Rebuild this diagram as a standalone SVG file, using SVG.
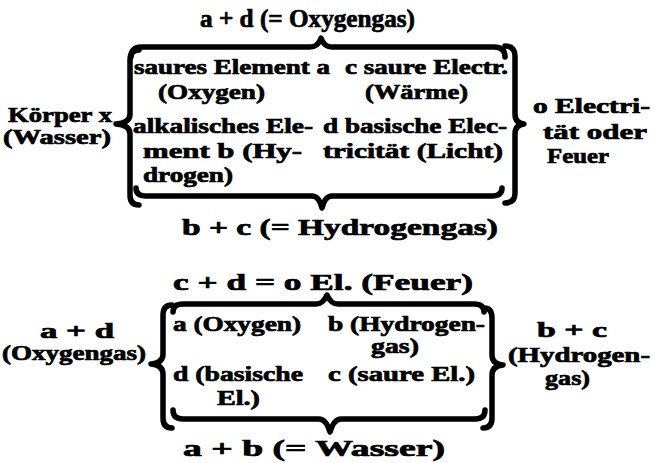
<svg xmlns="http://www.w3.org/2000/svg" width="661" height="463" viewBox="0 0 661 463">
<style>
text{font-family:"Liberation Serif","Times New Roman",serif;font-weight:bold;font-size:21px;fill:#000;stroke:#000;stroke-width:0.7}
.big{font-size:25px}
.sum{font-size:22.5px}
.brace{fill:none;stroke:#000;stroke-width:5.5;stroke-linecap:round;stroke-linejoin:round}
</style>
<rect width="661" height="463" fill="#fff"/>
<g id="braces">
<path class="brace" d="M131,57 Q131,47 142,47 L310,47 Q318,47 321,38 Q324,47 332,47 L494,47 Q505,47 505,57"/>
<path class="brace" d="M139,50 Q130,50 130,60 L130,114 Q130,123 116,124 Q130,125 130,134 L130,195 Q130,205 139,205"/>
<path class="brace" d="M505,46 Q515,46 515,56 L515,114 Q515,123 524,124 Q515,125 515,134 L515,193 Q515,203 505,203"/>
<path class="brace" d="M136,188 Q136,196 146,196 L312,196 Q319,196 322,208 Q325,196 332,196 L492,196 Q502,196 502,188"/>
<path class="brace" d="M173,312 Q173,304 183,304 L316,304 Q323,304 327,295 Q331,304 338,304 L474,304 Q484,304 484,312"/>
<path class="brace" d="M172,305 Q163,305 163,315 L163,354 Q163,363 151,364 Q163,365 163,374 L163,418 Q163,428 172,428"/>
<path class="brace" d="M484,308 Q492,308 492,318 L492,355 Q492,364 503,365 Q492,366 492,375 L492,418 Q492,428 483,428"/>
<path class="brace" d="M173,410 Q173,419 183,419 L319,419 Q326,419 330,432 Q334,419 341,419 L475,419 Q485,419 485,410"/>
</g>
<g id="top-sum"><text class="big" x="200" y="27" textLength="215" lengthAdjust="spacingAndGlyphs">a + d (= Oxygengas)</text></g>
<g id="koerper">
<text x="8" y="122" textLength="104" lengthAdjust="spacingAndGlyphs">Körper x</text>
<text x="3" y="144" textLength="108" lengthAdjust="spacingAndGlyphs">(Wasser)</text>
</g>
<g id="element-a">
<text x="134" y="74" textLength="196" lengthAdjust="spacingAndGlyphs">saures Element a</text>
<text x="158" y="99" textLength="107" lengthAdjust="spacingAndGlyphs">(Oxygen)</text>
</g>
<g id="electr-c">
<text x="345" y="74" textLength="163" lengthAdjust="spacingAndGlyphs">c saure Electr.</text>
<text x="365" y="99" textLength="103" lengthAdjust="spacingAndGlyphs">(Wärme)</text>
</g>
<g id="element-b">
<text x="133" y="133" textLength="180" lengthAdjust="spacingAndGlyphs">alkalisches Ele-</text>
<text x="143" y="158" textLength="159" lengthAdjust="spacingAndGlyphs">ment b  (Hy-</text>
<text x="143" y="182" textLength="90" lengthAdjust="spacingAndGlyphs">drogen)</text>
</g>
<g id="electr-d">
<text x="323" y="133" textLength="184" lengthAdjust="spacingAndGlyphs">d basische Elec-</text>
<text x="323" y="158" textLength="180" lengthAdjust="spacingAndGlyphs">tricität (Licht)</text>
</g>
<g id="electricitaet">
<text x="533" y="113" textLength="117" lengthAdjust="spacingAndGlyphs">o Electri-</text>
<text x="543" y="139" textLength="104" lengthAdjust="spacingAndGlyphs">tät  oder</text>
<text x="547" y="163" textLength="62" lengthAdjust="spacingAndGlyphs">Feuer</text>
</g>
<g id="bottom-sum1"><text class="sum" x="182" y="235" textLength="316" lengthAdjust="spacingAndGlyphs">b  +  c   (= Hydrogengas)</text></g>
<g id="top-sum2"><text class="sum" x="173" y="290" textLength="300" lengthAdjust="spacingAndGlyphs">c + d = o El. (Feuer)</text></g>
<g id="oxygengas">
<text x="40" y="338" textLength="74" lengthAdjust="spacingAndGlyphs">a + d</text>
<text x="2" y="360" textLength="144" lengthAdjust="spacingAndGlyphs">(Oxygengas)</text>
</g>
<g id="node-a"><text x="173" y="331" textLength="128" lengthAdjust="spacingAndGlyphs">a (Oxygen)</text></g>
<g id="node-b">
<text x="328" y="331" textLength="157" lengthAdjust="spacingAndGlyphs">b (Hydrogen-</text>
<text x="371" y="353" textLength="48" lengthAdjust="spacingAndGlyphs">gas)</text>
</g>
<g id="node-d">
<text x="173" y="381" textLength="130" lengthAdjust="spacingAndGlyphs">d (basische</text>
<text x="217" y="405" textLength="43" lengthAdjust="spacingAndGlyphs">El.)</text>
</g>
<g id="node-c"><text x="328" y="381" textLength="147" lengthAdjust="spacingAndGlyphs">c (saure El.)</text></g>
<g id="hydrogengas">
<text x="537" y="337" textLength="70" lengthAdjust="spacingAndGlyphs">b + c</text>
<text x="508" y="362" textLength="142" lengthAdjust="spacingAndGlyphs">(Hydrogen-</text>
<text x="545" y="385" textLength="45" lengthAdjust="spacingAndGlyphs">gas)</text>
</g>
<g id="bottom-sum2"><text class="sum" x="183" y="456" textLength="262" lengthAdjust="spacingAndGlyphs">a  +  b   (= Wasser)</text></g>
</svg>
